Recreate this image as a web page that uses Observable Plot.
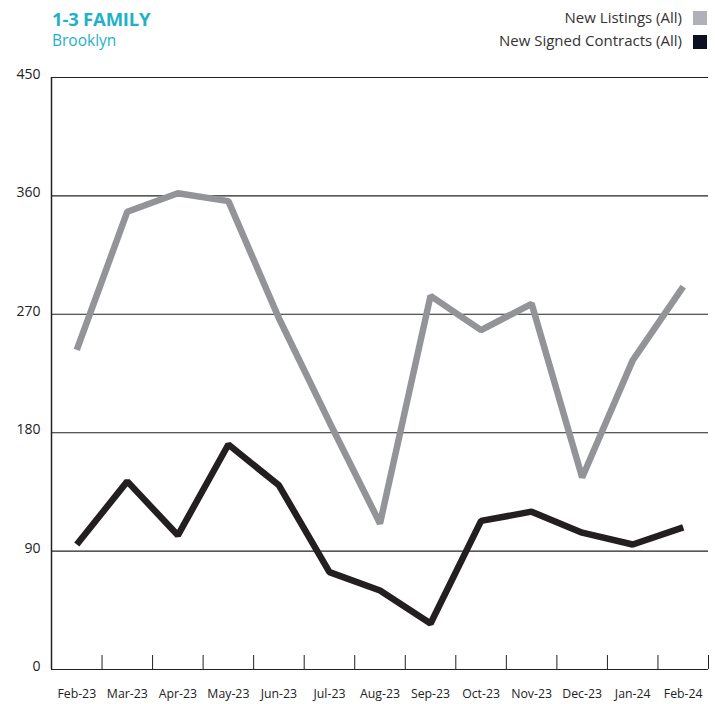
<!DOCTYPE html>
<html>
<head>
<meta charset="utf-8">
<script src="https://cdn.jsdelivr.net/npm/d3@7"></script>
<script src="https://cdn.jsdelivr.net/npm/@observablehq/plot@0.6"></script>
<style>
  body { margin: 0; background: #fff; font-family: "Open Sans", sans-serif; }
  #wrap { position: relative; width: 715px; height: 704px; }
  #wrap svg { position: absolute; left: 0; top: 0; }
  .title { position: absolute; left: 52px; top: 6px; font-size: 18.5px; font-weight: 700; color: #1fb1c8; letter-spacing: -0.2px; }
  .sub { position: absolute; left: 52px; top: 29px; font-size: 15.5px; color: #1fb1c8; }
  .leg { position: absolute; right: 33px; font-size: 15px; color: #333; white-space: nowrap; }
  .sw { position: absolute; left: 693px; width: 14px; height: 14px; }
</style>
</head>
<body>
<div id="wrap">
  <div class="title">1-3 FAMILY</div>
  <div class="sub">Brooklyn</div>
  <div class="leg" style="top:7px">New Listings (All)</div>
  <div class="sw" style="top:11px;background:#b0b1b8"></div>
  <div class="leg" style="top:30px">New Signed Contracts (All)</div>
  <div class="sw" style="top:35px;background:#0d0f24"></div>
</div>
<script>
const months = ["Feb-23","Mar-23","Apr-23","May-23","Jun-23","Jul-23","Aug-23","Sep-23","Oct-23","Nov-23","Dec-23","Jan-24","Feb-24"];
const newListings = [243, 348, 362, 356, 267, 188, 111, 284, 258, 278, 146, 235, 291];
const newContracts = [95, 143, 102, 171, 140, 74, 60, 35, 113, 120, 104, 95, 108];
const yTicks = [0, 90, 180, 270, 360, 450];

const idx = months.map((m, i) => i);
const listingRows = months.map((m, i) => ({i, m, v: newListings[i]}));
const contractRows = months.map((m, i) => ({i, m, v: newContracts[i]}));
const boundaries = months.map((m, i) => i + 0.5);

const chart = Plot.plot({
  width: 715,
  height: 704,
  marginLeft: 51,
  marginRight: 7,
  marginTop: 77,
  marginBottom: 35,
  style: { fontFamily: "Open Sans, sans-serif", background: "transparent", color: "#222" },
  x: { type: "linear", domain: [-0.5, months.length - 0.5], axis: null },
  y: { domain: [0, 450], axis: null },
  marks: [
    Plot.ruleY(yTicks, { stroke: "#222", strokeWidth: 1.1 }),
    Plot.ruleX([-0.5], { stroke: "#222", strokeWidth: 1.5 }),
    Plot.ruleX(boundaries, { stroke: "#222", strokeWidth: 1, insetTop: 578 }),
    Plot.axisY({ ticks: yTicks, tickSize: 0, tickPadding: 11, fontSize: 14, dy: -3, label: null, color: "#222" }),
    Plot.axisX({ ticks: idx, tickSize: 0, tickPadding: 20, tickFormat: i => months[i], fontSize: 12.3, label: null, color: "#222" }),
    Plot.line(listingRows, { x: "i", y: "v", stroke: "#939498", strokeWidth: 6.5, strokeLinejoin: "miter", strokeLinecap: "butt" }),
    Plot.line(contractRows, { x: "i", y: "v", stroke: "#231f20", strokeWidth: 6.5, strokeLinejoin: "miter", strokeLinecap: "butt" })
  ]
});
document.getElementById("wrap").prepend(chart);
</script>
</body>
</html>
